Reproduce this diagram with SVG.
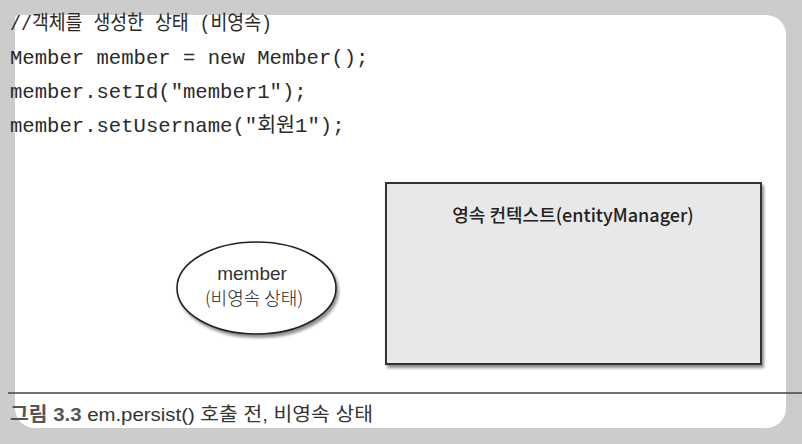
<svg xmlns="http://www.w3.org/2000/svg" width="802" height="444" viewBox="0 0 802 444">
<style>
.code{font-family:"Liberation Mono","Noto Sans CJK KR",monospace;font-size:20.6px;fill:#2a2a2a}
.lbl{font-family:"Noto Sans CJK KR","Noto Sans",sans-serif;fill:#222}
.cap{font-family:"Liberation Sans","Noto Sans CJK KR",sans-serif;font-size:19px;fill:#333}
</style>
<defs>
<filter id="sh" x="-10%" y="-10%" width="130%" height="130%">
<feGaussianBlur in="SourceAlpha" stdDeviation="1.5"/>
<feOffset dx="1.5" dy="2.5" result="b"/>
<feComponentTransfer><feFuncA type="linear" slope="0.45"/></feComponentTransfer>
<feMerge><feMergeNode/><feMergeNode in="SourceGraphic"/></feMerge>
</filter>
</defs>
<rect x="0" y="0" width="802" height="444" fill="#cccccc"/>
<path d="M19,15 H766 A20,20 0 0 1 786,35 V408 A20,20 0 0 1 766,428 H35 A20,20 0 0 1 15,408 V19 A4,4 0 0 1 19,15 Z" fill="#ffffff"/>
<g id="code">
<text class="code" x="10" y="30" textLength="262" lengthAdjust="spacingAndGlyphs">//객체를 생성한 상태 (비영속)</text>
<text class="code" x="10" y="64">Member member = new Member();</text>
<text class="code" x="10" y="98">member.setId("member1");</text>
<text class="code" x="10" y="132">member.setUsername("회원1");</text>
</g>
<g id="persistence-context">
<rect x="386" y="183" width="375" height="181" fill="#e8e8e8" stroke="#333" stroke-width="2" filter="url(#sh)"/>
<text class="lbl" x="573" y="222" font-size="18" font-weight="500" text-anchor="middle">영속 컨텍스트(entityManager)</text>
</g>
<g id="member">
<ellipse cx="256.5" cy="288" rx="79.5" ry="46" fill="#ffffff" stroke="#222" stroke-width="1.6" filter="url(#sh)"/>
<text x="252" y="280" font-family="'Liberation Sans',sans-serif" font-size="19" text-anchor="middle" fill="#333">member</text>
<text class="lbl" x="254" y="305" font-size="18" font-weight="300" text-anchor="middle" fill="#333">(비영속 상태)</text>
</g>
<g id="connectors"></g>
<line x1="8" y1="393" x2="802" y2="393" stroke="#444" stroke-width="1.5"/>
<text class="cap" x="10" y="421" textLength="363" lengthAdjust="spacingAndGlyphs"><tspan font-weight="bold" fill="#555">그림 3.3</tspan> em.persist() 호출 전, 비영속 상태</text>
</svg>
